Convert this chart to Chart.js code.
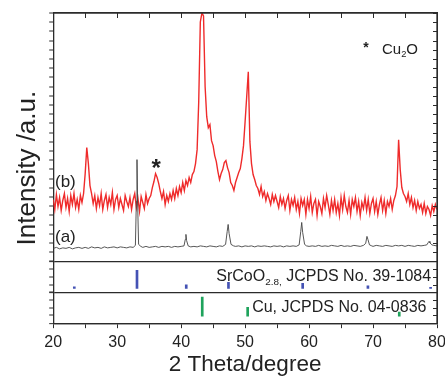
<!DOCTYPE html>
<html><head><meta charset="utf-8">
<script src="https://cdn.jsdelivr.net/npm/chart.js@4/dist/chart.umd.min.js"></script>
<style>
html,body{margin:0;padding:0;background:#fff}
#wrap{position:relative;width:445px;height:382px}
#frameBox{position:absolute;box-sizing:border-box;border-top:1.3px solid #2b2b2b;border-right:1.3px solid #2b2b2b;pointer-events:none}
</style>
</head><body>
<div id="wrap"><canvas id="c" width="445" height="382"></canvas><div id="frameBox"></div></div>
<script>
// ---------- data ----------
const X_MIN = 20, X_MAX = 80;
const xTickLabels = [20, 30, 40, 50, 60, 70, 80];

// pattern (b): sampled every 0.25 deg from 20 to 80 (arbitrary intensity units; 43.3 deg peak runs off the top)
const patternBStart = 20, patternBStep = 0.25;
const patternB = [
 62,52,67,55, 64,51,61,68, 54,63,50,66, 57,68,54,62, 52,66,59,68,
 88,114,98,76, 68,58,66,53, 64,56,68,52, 61,67,54,64, 57,69,52,62,
 66,54,63,57, 51,66,60,55, 64,52,62,68, 54,63,50,65, 59,53,67,58,
 63,66,74,80, 88,84,78,70, 63,70,57,66, 60,68,62,71, 63,73,66,75,
 69,79,71,81, 76,84,79,87, 90,98,112,160, 240,249,246,175, 145,134,137,121,
 116,106,100,90, 82,88,92,99, 101,94,89,79, 76,71,79,84, 89,93,103,116,
 140,165,190,120, 98,87,82,76, 73,67,75,65, 70,61,68,63, 57,67,60,66,
 60,54,65,57, 63,53,61,66, 51,62,56,64, 52,60,48,63, 56,62,47,62,
 53,65,49,58, 62,46,60,55, 48,63,54,66, 57,47,61,51, 62,49,58,46,
 64,52,66,55, 49,61,47,62, 55,64,50,60, 46,59,53,64, 51,62,48,58,
 63,50,60,47, 57,64,51,61, 48,60,55,63, 52,61,66,75, 122,92,74,68,
 65,60,68,57, 64,54,61,51, 60,53,57,49, 58,48,55,52, 46,56,50,57,
 52
];

// pattern (a): [2theta, intensity]
const patternA = [
 [20,13],[20.5,14],[21,12.5],[21.5,13.5],[22,13],[22.5,14],[23,12.5],[23.5,13.5],[24,14],[24.5,13],
 [25,14],[25.5,13],[26,14.5],[26.5,13.5],[27,14],[27.5,13],[28,14.5],[28.5,13.5],[29,14],[29.5,14.5],
 [30,13.5],[30.5,14.5],[31,14],[31.5,13.5],[32,14.5],[32.5,14],[32.85,16],[33.0,60],[33.1,102],[33.2,58],
 [33.35,17],[33.7,15],[34,14],[34.5,15],[35,14],[35.5,14.5],[36,15],[36.5,14],[37,15],[37.5,14.5],
 [38,15],[38.5,14],[39,15],[39.5,14.5],[40,15],[40.45,15.5],[40.65,22],[40.75,27],[40.85,21],[41.1,15.5],
 [41.5,14.5],[42,15],[42.5,14.5],[43,15.5],[43.5,15],[44,14.5],[44.5,15.5],[45,15],[45.5,14.5],[46,15.5],
 [46.5,15],[46.95,17],[47.2,30],[47.35,37],[47.5,28],[47.8,17],[48.2,15.5],[48.5,15],[49,15.5],[49.5,14.5],
 [50,15.5],[50.5,15],[51,15.5],[51.5,14.5],[52,15.5],[52.5,15],[53,15.5],[53.5,15],[54,14.5],[54.5,15.5],
 [55,15],[55.5,15.5],[56,14.5],[56.5,15.5],[57,15],[57.5,15.5],[58,15],[58.45,16.5],[58.7,30],[58.85,39],
 [59.0,29],[59.3,17],[59.6,15.5],[60,15],[60.5,15.5],[61,15],[61.5,16],[62,15],[62.5,15.5],[63,15],
 [63.5,16],[64,15.5],[64.5,15],[65,16],[65.5,15],[66,15.5],[66.5,15],[67,16],[67.5,15.5],[68,15],
 [68.5,16],[68.85,18],[69.05,25],[69.2,22],[69.45,16.5],[69.8,15.5],[70,15],[70.5,16],[71,15.5],[71.5,15],
 [72,16],[72.5,15.5],[73,15],[73.5,16],[74,15.5],[74.5,16],[75,15],[75.5,16],[76,15.5],[76.5,15],
 [77,16],[77.5,15.5],[78,16],[78.4,16.5],[78.65,19],[78.75,20],[78.9,18.5],[79.2,16.5],[79.5,16],[80,15.5]
];

// reference cards (relative intensity)
const srcooPos = [23.3, 33.1, 40.8, 47.4, 59.0, 69.2, 79.0];
const srcooInt = [8, 100, 20, 33, 28, 14, 6];
const cuPos = [43.3, 50.4, 74.1];
const cuInt = [100, 47, 21];

// ---------- build ----------
const FONT = '"Liberation Sans", Arial, Helvetica, sans-serif';
const AX = '#2b2b2b';
const dataB = patternB.map((v, i) => ({x: patternBStart + i * patternBStep, y: v}));
const dataA = patternA.map(p => ({x: p[0], y: p[1]}));
const dataSr = srcooPos.map((p, i) => ({x: p, y: srcooInt[i]}));
const dataCu = cuPos.map((p, i) => ({x: p, y: cuInt[i]}));

function rich(ctx, parts, x, y, size) {
  ctx.textAlign = 'left';
  ctx.textBaseline = 'middle';
  let cx = x;
  for (const [t, sub] of parts) {
    const s = sub ? size * 0.62 : size;
    ctx.font = s + 'px ' + FONT;
    ctx.fillText(t, cx, sub ? y + size * 0.32 : y);
    cx += ctx.measureText(t).width;
  }
}

const annot = {
  id: 'annot',
  afterDatasetsDraw(chart) {
    const {ctx, scales} = chart;
    const x = scales.x, ym = scales.yMain, ys = scales.ySr, yc = scales.yCu;
    ctx.save();
    // top and right frame, inward ticks at the library's own tick positions
    const L = x.left, R = x.right, T = ym.top, B = yc.bottom;
    ctx.strokeStyle = AX;
    ctx.lineWidth = 1.3;
    ctx.beginPath();
    ctx.moveTo(L, T);
    ctx.lineTo(R, T);
    ctx.lineTo(R, B);
    ctx.stroke();
    ctx.lineWidth = 1;
    ctx.beginPath();
    for (const t of x.ticks) {
      const px = Math.round(x.getPixelForValue(t.value)) + 0.5;
      ctx.moveTo(px, T);
      ctx.lineTo(px, T + 5);
    }
    for (const s of [ym, ys, yc]) {
      for (const t of s.ticks) {
        const py = Math.round(s.getPixelForValue(t.value)) + 0.5;
        ctx.moveTo(R, py);
        ctx.lineTo(R - 4, py);
      }
    }
    ctx.stroke();
    // labels
    ctx.fillStyle = '#222';
    ctx.textAlign = 'center';
    ctx.textBaseline = 'middle';
    ctx.font = '17px ' + FONT;
    ctx.fillText('(b)', x.getPixelForValue(21.9), ym.getPixelForValue(79));
    ctx.fillText('(a)', x.getPixelForValue(21.9), ym.getPixelForValue(24));
    ctx.font = 'bold 24px ' + FONT;
    ctx.fillText('*', x.getPixelForValue(36.1), ym.getPixelForValue(92));
    ctx.font = 'bold 14px ' + FONT;
    ctx.fillText('*', x.getPixelForValue(68.9), ym.getPixelForValue(214));
    rich(ctx, [['Cu', 0], ['2', 1], ['O', 0]], x.getPixelForValue(71.4), ym.getPixelForValue(212), 15);
    rich(ctx, [['SrCoO', 0], ['2.8', 1], [',', 1], [' JCPDS No. 39-1084', 0]], x.getPixelForValue(45.5), ys.getPixelForValue(64), 16);
    rich(ctx, [['Cu, JCPDS No. 04-0836', 0]], x.getPixelForValue(51.1), yc.getPixelForValue(44), 16);
    ctx.restore();
  }
};

const leftY = (min, max, weight, sw, count) => ({
  type: 'linear', position: 'left', stack: 'L', stackWeight: sw, weight: weight,
  min: min, max: max,
  ticks: {display: false, count: count},
  border: {display: true, color: AX, width: 1.3},
  grid: {drawOnChartArea: true, tickLength: 4, tickColor: AX, tickWidth: 1,
         color: c => (c.index === 0 ? AX : 'rgba(0,0,0,0)'), lineWidth: c => (c.index === 0 ? 1.3 : 0)}
});

const chart = new Chart(document.getElementById('c'), {
  type: 'line',
  data: {
    datasets: [
      {label: '(a)', data: dataA, yAxisID: 'yMain', borderColor: '#444', borderWidth: 0.9, pointRadius: 0, order: 1},
      {label: '(b)', data: dataB, yAxisID: 'yMain', borderColor: '#ef2b2b', borderWidth: 1.4, pointRadius: 0, order: 2},
      {type: 'bar', label: 'SrCoO2.8', data: dataSr, yAxisID: 'ySr', backgroundColor: '#4452b4', barThickness: 2, grouped: false, order: 3},
      {type: 'bar', label: 'Cu', data: dataCu, yAxisID: 'yCu', backgroundColor: '#1fa35c', barThickness: 2, grouped: false, order: 4}
    ]
  },
  options: {
    responsive: false, animation: false, events: [],
    layout: {padding: {left: 6, right: 8, top: 13, bottom: 10}},
    plugins: {
      legend: {display: false}, tooltip: {enabled: false},
      title: {display: true, position: 'left', fullSize: false, text: 'Intensity /a.u.', color: '#222',
              font: {family: FONT, size: 26, weight: 'normal', lineHeight: 1.2}, padding: {top: 6, bottom: 6}}
    },
    scales: {
      x: {
        type: 'linear', position: 'bottom', min: X_MIN, max: X_MAX, offset: false,
        afterFit: s => { s.paddingRight = 0; },
        ticks: {stepSize: 5, autoSkip: false, maxRotation: 0, color: '#222', padding: 5,
                font: {family: FONT, size: 16},
                callback: v => (xTickLabels.includes(v) ? String(v) : '')},
        border: {display: true, color: AX, width: 1.3},
        grid: {offset: false, drawOnChartArea: false, tickLength: 5, tickColor: AX, tickWidth: 1},
        title: {display: true, text: '2 Theta/degree', color: '#222',
                font: {family: FONT, size: 22.5, lineHeight: 0.65}, padding: {top: 0, bottom: 0}}
      },
      yMain: leftY(0, 249, 3, 249, 28),
      ySr: leftY(-22, 150, 2, 31, 5),
      yCu: leftY(-37, 126, 1, 31, 5)
    }
  },
  plugins: [annot]
});

// frame outline on the page, sized from the chart's own scales
const fb = document.getElementById('frameBox');
const sx = chart.scales.x, sm = chart.scales.yMain, sc = chart.scales.yCu;
fb.style.left = sx.left + 'px';
fb.style.top = (sm.top - 0.65) + 'px';
fb.style.width = (sx.right - sx.left + 0.65) + 'px';
fb.style.height = (sc.bottom - sm.top + 0.65) + 'px';
</script>
</body></html>
